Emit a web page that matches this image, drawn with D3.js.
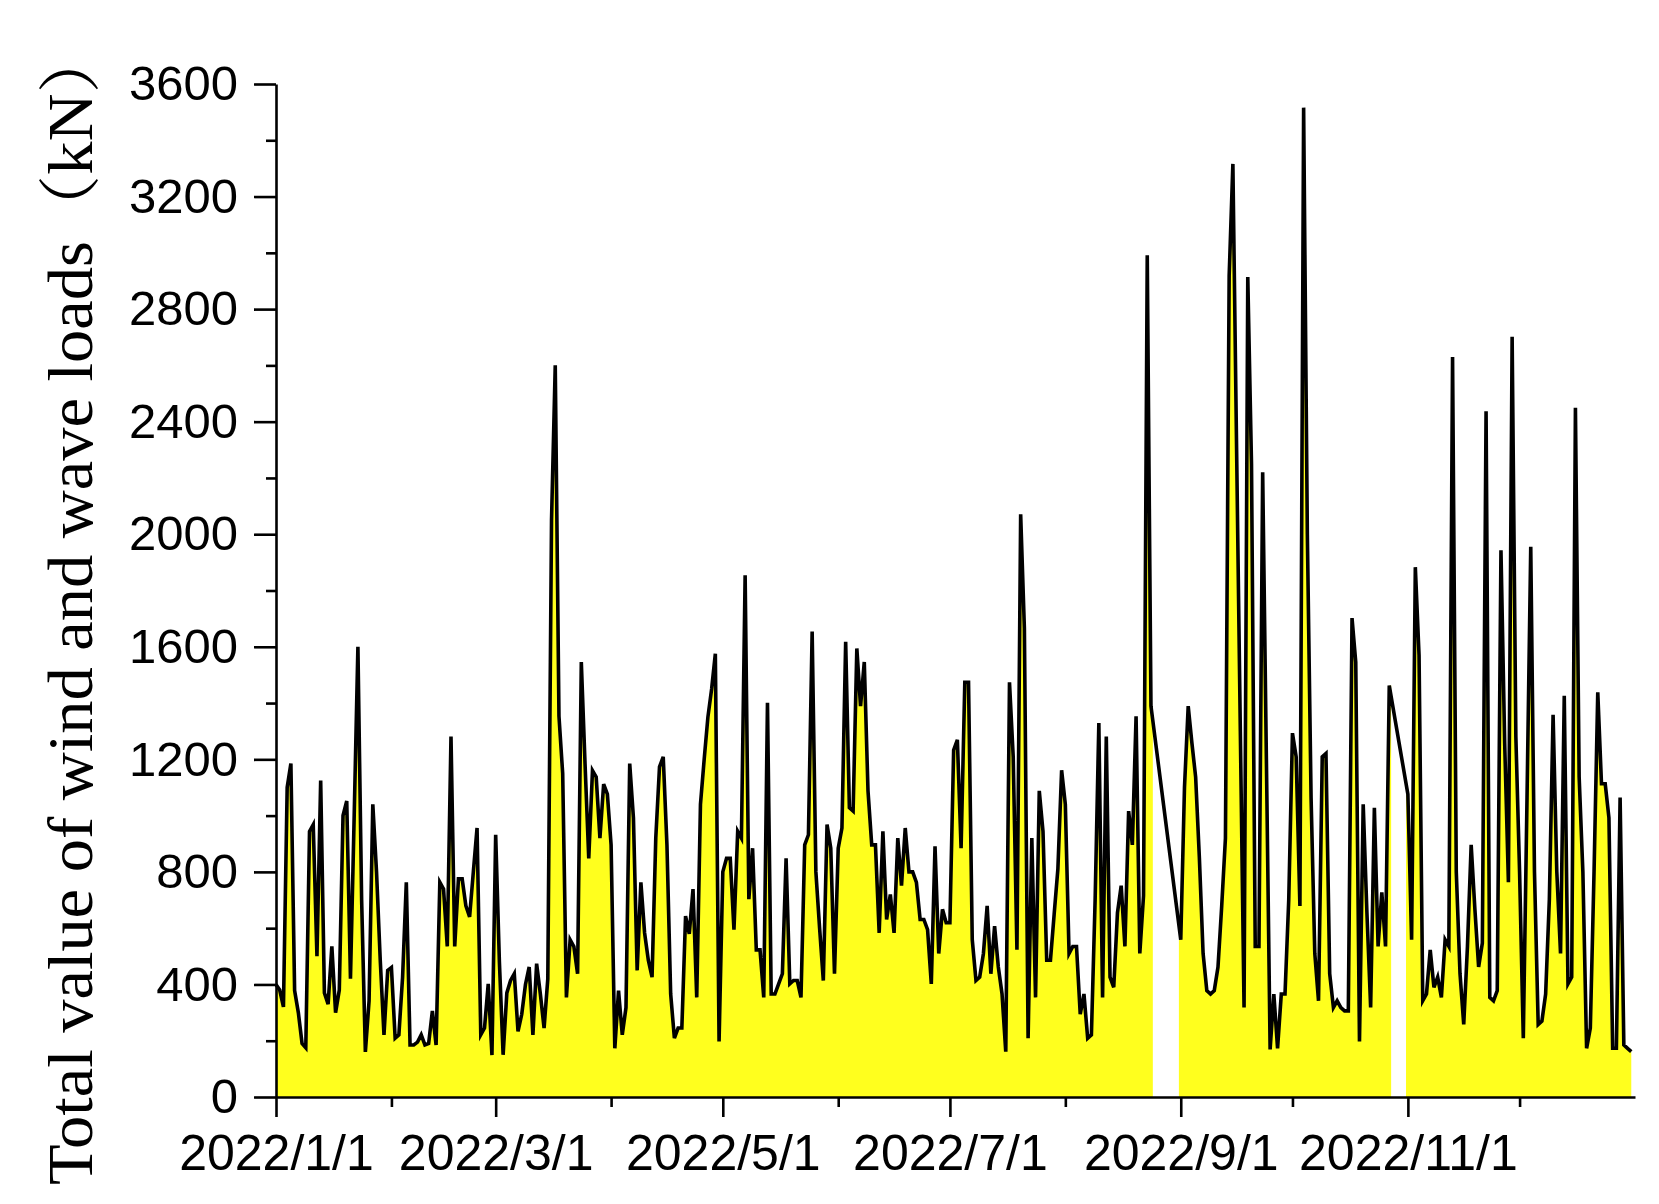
<!DOCTYPE html>
<html>
<head>
<meta charset="utf-8">
<script src="https://cdn.jsdelivr.net/npm/d3@7"></script>
<style>
  html, body { margin: 0; padding: 0; background: #ffffff; }
  svg { display: block; }
</style>
</head>
<body>
<svg id="chart" width="1659" height="1204"></svg>
<script>
// ---- Data: daily total value of wind and wave loads (kN), 2022 ----
const jan = [400, 380, 320, 1100, 1185, 378, 300, 190, 175, 944, 968, 500, 1125, 370, 330, 535, 300, 380, 1000, 1052, 420, 1000, 1600, 700, 160, 342, 1040, 800, 486, 221, 450];
const feb = [460, 209, 221, 426, 763, 185, 185, 195, 221, 185, 190, 306, 185, 763, 739, 535, 1281, 535, 775, 775, 679, 640, 800, 956, 221, 245, 402, 149];
const mar = [932, 480, 150, 370, 414, 438, 233, 294, 400, 462, 221, 474, 366, 245, 420, 2050, 2600, 1353, 1149, 354, 559, 535, 438, 1546, 1185, 848, 1160, 1137, 920, 1112, 1076];
const apr = [896, 173, 378, 221, 318, 1185, 992, 450, 763, 583, 486, 426, 920, 1173, 1209, 896, 366, 209, 245, 245, 643, 580, 739, 354, 1040, 1200, 1350, 1450, 1575, 197];
const may = [800, 848, 848, 595, 944, 920, 1854, 703, 884, 523, 523, 354, 1401, 366, 366, 402, 438, 848, 402, 414, 414, 354, 896, 932, 1654, 800, 600, 414, 968, 884, 438];
const jun = [884, 956, 1618, 1028, 1016, 1594, 1389, 1546, 1088, 896, 896, 583, 944, 631, 720, 583, 920, 751, 956, 800, 800, 763, 631, 631, 595, 402, 891, 510, 667, 619];
const jul = [619, 1233, 1269, 884, 1474, 1474, 559, 414, 426, 510, 679, 438, 607, 462, 366, 161, 1474, 1209, 523, 2071, 1666, 209, 920, 354, 1088, 944, 486, 486, 650, 811, 1161];
const aug = [1040, 510, 535, 535, 294, 366, 209, 221, 700, 1329, 354, 1281, 426, 390, 655, 751, 535, 1016, 896, 1353, 510, 715, 2991, 1389, null, null, null, null, null, null, null];
const sep = [559, 1100, 1389, 1257, 1137, 850, 510, 378, 366, 378, 462, 679, 920, 2918, 3316, 2300, 1300, 318, 2914, 2250, 535, 535, 2220, 1200, 169, 366, 173, 366, 366, 700];
const oct = [1293, 1209, 679, 3516, 2000, 1064, 510, 342, 1209, 1221, 438, 318, 342, 318, 306, 306, 1702, 1546, 197, 1040, 655, 318, 1028, 535, 727, 535, 1462, null, null, null, null];
const nov = [1076, 559, 1883, 1570, 342, 366, 523, 390, 426, 354, 559, 535, 2630, 800, 438, 258, 535, 896, 667, 462, 547, 2437, 354, 342, 378, 1943, 1257, 763, 2702, 1281];
const dec = [800, 209, 1064, 1955, 800, 258, 270, 366, 703, 1358, 800, 510, 1426, 402, 426, 2449, 1137, 800, 173, 245, 800, 1438, 1113, 1113, 992, 173, 173, 1064, 185, 173, 161];

const yTicksMajor = [0, 400, 800, 1200, 1600, 2000, 2400, 2800, 3200, 3600];
const yTicksMinor = [200, 600, 1000, 1400, 1800, 2200, 2600, 3000, 3400];
const xLabelMonths = [0, 2, 4, 6, 8, 10];      // labelled months (Jan, Mar, May, Jul, Sep, Nov)
const xMinorMonths = [1, 3, 5, 7, 9, 11];
const yTitle = "Total value of wind and wave loads\uFF08kN\uFF09";

// ---- Build series ----
const values = [jan, feb, mar, apr, may, jun, jul, aug, sep, oct, nov, dec].flat();
const start = new Date(2022, 0, 1);
const data = values.map((v, i) => ({ date: d3.timeDay.offset(start, i), v }));

const svg = d3.select("#chart");
const x = d3.scaleTime().domain([new Date(2022, 0, 1), new Date(2023, 0, 1)]).range([276, 1635]);
const y = d3.scaleLinear().domain([0, 3600]).range([1097, 84]);

// Area points with half-day padding next to missing days
const areaPts = [];
data.forEach((d, i) => {
  if (d.v == null) {
    if (areaPts.length && !areaPts[areaPts.length - 1].gap) areaPts.push({ gap: true });
    return;
  }
  const prev = data[i - 1], next = data[i + 1];
  if (prev && prev.v == null) areaPts.push({ date: d3.timeHour.offset(d.date, -12), v: d.v });
  areaPts.push(d);
  if (next && next.v == null) areaPts.push({ date: d3.timeHour.offset(d.date, 12), v: d.v });
});

const area = d3.area()
  .defined(d => !d.gap)
  .x(d => x(d.date))
  .y0(y(0))
  .y1(d => y(d.v));

svg.append("path")
  .datum(areaPts)
  .attr("d", area)
  .attr("fill", "#ffff1e")
  .attr("stroke", "none");

const line = d3.line()
  .x(d => x(d.date))
  .y(d => y(d.v));

svg.append("path")
  .datum(data.filter(d => d.v != null))
  .attr("d", line)
  .attr("fill", "none")
  .attr("stroke", "#000")
  .attr("stroke-width", 3.6)
  .attr("stroke-linejoin", "miter");

// ---- Axes ----
const fontSans = "'Liberation Sans', Arial, sans-serif";
const fmt = d => `${d.getFullYear()}/${d.getMonth() + 1}/${d.getDate()}`;

const yMinor = svg.append("g").attr("transform", "translate(276,0)")
  .call(d3.axisLeft(y).tickValues(yTicksMinor).tickSize(10).tickSizeOuter(0).tickFormat(""));
yMinor.select(".domain").remove();

const yAxis = svg.append("g").attr("class", "yaxis").attr("transform", "translate(276,0)")
  .call(d3.axisLeft(y).tickValues(yTicksMajor).tickSize(22).tickSizeOuter(0).tickPadding(16).tickFormat(d3.format("d")));

const xMinor = svg.append("g").attr("transform", "translate(0,1097)")
  .call(d3.axisBottom(x).tickValues(xMinorMonths.map(m => new Date(2022, m, 1))).tickSize(10).tickSizeOuter(0).tickFormat(""));
xMinor.select(".domain").remove();

const xAxis = svg.append("g").attr("class", "xaxis").attr("transform", "translate(0,1097)")
  .call(d3.axisBottom(x).tickValues(xLabelMonths.map(m => new Date(2022, m, 1))).tickSize(20).tickSizeOuter(0).tickPadding(17).tickFormat(fmt));

svg.selectAll(".domain").attr("stroke", "#000").attr("stroke-width", 2.6);
svg.selectAll(".tick line").attr("stroke", "#000").attr("stroke-width", 2.6);
svg.selectAll(".tick text").attr("fill", "#000").style("font-family", fontSans);
yAxis.selectAll(".tick text").style("font-size", "49px");
xAxis.selectAll(".tick text").style("font-size", "50px");

// ---- Y title ----
svg.append("text")
  .attr("transform", "translate(92,606) rotate(-90)")
  .attr("text-anchor", "middle")
  .attr("textLength", 1158)
  .attr("lengthAdjust", "spacingAndGlyphs")
  .style("font-family", "'Liberation Serif', 'Times New Roman', 'Noto Serif CJK SC', 'Noto Sans CJK SC', serif")
  .style("font-size", "63px")
  .attr("fill", "#000")
  .text(yTitle);
</script>
</body>
</html>
